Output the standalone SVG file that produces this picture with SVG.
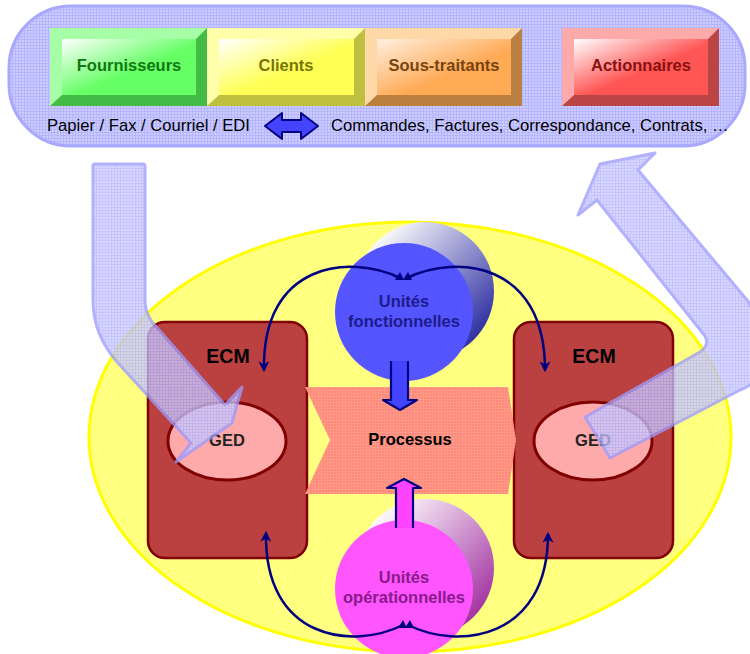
<svg xmlns="http://www.w3.org/2000/svg" width="750" height="654" viewBox="0 0 750 654">
<defs>
<style>
text{font-family:"Liberation Sans",Arial,sans-serif}
.bt{font-size:16.5px;font-weight:bold;text-anchor:middle}
.lbl{font-size:16.6px;fill:#000}
.ecm{fill:#bb4040;stroke:#800000;stroke-width:2.5}
.ged{fill:#ffaaaa;stroke:#800000;stroke-width:3}
.arc{fill:none;stroke:#000080;stroke-width:2.5}
.big{fill:url(#grid);stroke:#9c9cff;stroke-width:3;stroke-linejoin:round}
</style>
<pattern id="grid" width="3" height="3" patternUnits="userSpaceOnUse"><rect width="3" height="3" fill="#ccccff"/><path d="M0 0.5H3M0.5 0V3" stroke="#b6b6ff" stroke-width="1"/></pattern>
<pattern id="sgrid" width="3" height="3" patternUnits="userSpaceOnUse"><rect width="3" height="3" fill="#ff8877"/><path d="M0 0.5H3M0.5 0V3" stroke="#ff9a8a" stroke-width="1"/></pattern>
<linearGradient id="gG" x1="0" y1="0" x2="1" y2="1"><stop offset="0" stop-color="#ffffff"/><stop offset="0.55" stop-color="#66ff66"/></linearGradient>
<linearGradient id="gY" x1="0" y1="0" x2="1" y2="1"><stop offset="0" stop-color="#ffffff"/><stop offset="0.55" stop-color="#ffff55"/></linearGradient>
<linearGradient id="gO" x1="0" y1="0" x2="1" y2="1"><stop offset="0" stop-color="#fff0e0"/><stop offset="0.6" stop-color="#ffaa55"/></linearGradient>
<linearGradient id="gR" x1="0" y1="0" x2="1" y2="1"><stop offset="0" stop-color="#ffffff"/><stop offset="0.55" stop-color="#ff5555"/></linearGradient>
<linearGradient id="shB" x1="0.15" y1="0.1" x2="0.9" y2="0.85"><stop offset="0" stop-color="#ffffff"/><stop offset="1" stop-color="#2a2aa0"/></linearGradient>
<linearGradient id="shM" x1="0.15" y1="0.1" x2="0.9" y2="0.85"><stop offset="0" stop-color="#ffffff"/><stop offset="1" stop-color="#a030a0"/></linearGradient>
<marker id="ah" viewBox="0 0 10 10" refX="8" refY="5" markerWidth="4.4" markerHeight="4.4" orient="auto" markerUnits="strokeWidth"><path d="M0 0L10 5L0 10L3 5Z" fill="#000080"/></marker>
</defs>

<g id="panel">
<rect x="9" y="6" width="736" height="140" rx="62" ry="62" fill="url(#grid)" stroke="#a8a8ff" stroke-width="3"/>
</g>

<g id="fournisseurs" transform="translate(50,28)">
<rect width="157" height="78" fill="#44bb44"/>
<polygon points="0,0 157,0 146,11 12,11 12,67 0,78" fill="#a6ffa6"/>
<rect x="12" y="11" width="134" height="56" fill="url(#gG)"/>
<text class="bt" x="79" y="43" fill="#117711">Fournisseurs</text>
</g>
<g id="clients" transform="translate(207,28)">
<rect width="158" height="78" fill="#c0c040"/>
<polygon points="0,0 158,0 147,11 12,11 12,67 0,78" fill="#ffffaa"/>
<rect x="12" y="11" width="135" height="56" fill="url(#gY)"/>
<text class="bt" x="79" y="43" fill="#777700">Clients</text>
</g>
<g id="sous-traitants" transform="translate(365,28)">
<rect width="157" height="78" fill="#bb8040"/>
<polygon points="0,0 157,0 146,11 12,11 12,67 0,78" fill="#ffd8a8"/>
<rect x="12" y="11" width="134" height="56" fill="url(#gO)"/>
<text class="bt" x="79" y="43" fill="#774411">Sous-traitants</text>
</g>
<g id="actionnaires" transform="translate(562,28)">
<rect width="157" height="78" fill="#bb4444"/>
<polygon points="0,0 157,0 146,11 12,11 12,67 0,78" fill="#ffaaaa"/>
<rect x="12" y="11" width="134" height="56" fill="url(#gR)"/>
<text class="bt" x="79" y="43" fill="#881111">Actionnaires</text>
</g>

<g id="media">
<text class="lbl" x="47" y="131">Papier / Fax / Courriel / EDI</text>
<path d="M265 126 L282 113 L282 120 L301 120 L301 113 L318 126 L301 139 L301 132 L282 132 L282 139 Z" fill="#4444ff" stroke="#000080" stroke-width="2" stroke-linejoin="round"/>
<text class="lbl" x="331" y="131">Commandes, Factures, Correspondance, Contrats, …</text>
</g>

<g id="ecm-zone">
<ellipse cx="410" cy="437" rx="321" ry="215" fill="#ffff80" stroke="#ffff00" stroke-width="3"/>
</g>

<g id="unites-fonctionnelles">
<circle cx="425" cy="291" r="69" fill="url(#shB)"/>
<circle cx="404" cy="312" r="69" fill="#5555ff"/>
<text class="bt" x="404" y="307" fill="#1c1c8c">Unités</text>
<text class="bt" x="404" y="327" fill="#1c1c8c">fonctionnelles</text>
</g>

<g id="unites-operationnelles">
<circle cx="425" cy="568" r="69" fill="url(#shM)"/>
<circle cx="404" cy="589" r="69" fill="#ff55ff"/>
<text class="bt" x="404" y="583" fill="#8a1a8a">Unités</text>
<text class="bt" x="404" y="603" fill="#8a1a8a">opérationnelles</text>
</g>

<g id="ecm-left">
<rect class="ecm" x="148" y="322" width="159" height="236" rx="17"/>
<text x="228" y="363" font-size="19.5" font-weight="bold" text-anchor="middle">ECM</text>
</g>
<g id="ged-left">
<ellipse class="ged" cx="227" cy="441" rx="59" ry="39"/>
<text x="227" y="446" font-size="16.5" font-weight="bold" text-anchor="middle" fill="#222">GED</text>
</g>
<g id="ecm-right">
<rect class="ecm" x="514" y="322" width="159" height="236" rx="17"/>
<text x="594" y="363" font-size="19.5" font-weight="bold" text-anchor="middle">ECM</text>
</g>
<g id="ged-right">
<ellipse class="ged" cx="593" cy="441" rx="59" ry="39"/>
<text x="593" y="446" font-size="16.5" font-weight="bold" text-anchor="middle" fill="#222">GED</text>
</g>

<g id="processus">
<polygon points="305,387 508,387 516,440 508,494 305,494 330,440" fill="url(#sgrid)"/>
<text class="bt" x="410" y="445" fill="#000">Processus</text>
</g>

<g id="connectors">
<polygon points="391,361 391,400 383,400 400,410 417,400 408,400 408,361" fill="#4444ff"/>
<path d="M391 361 L391 400 L383 400 L400 410 L417 400 L408 400 L408 361" fill="none" stroke="#000080" stroke-width="2.2" stroke-linejoin="round"/>
<polygon points="396,528 396,488 387,488 404,479 421,488 413,488 413,528" fill="#ff44ff"/>
<path d="M396 528 L396 488 L387 488 L404 479 L421 488 L413 488 L413 528" fill="none" stroke="#000080" stroke-width="2.2" stroke-linejoin="round"/>
<path class="arc" d="M400 278 C350 254 262 262 264 370" marker-end="url(#ah)"/>
<path class="arc" d="M407 278 C457 254 545 262 545 370" marker-end="url(#ah)"/>
<path class="arc" d="M403 625 C353 650 264 640 266 533" marker-end="url(#ah)"/>
<path class="arc" d="M408 625 C458 650 548 640 548 534" marker-end="url(#ah)"/>
<path d="M395 280 L400 272 L404 280 Z M403 280 L408 272 L412 280 Z" fill="#000080"/>
<path d="M398 628 L403 620 L407 628 Z M405 628 L410 620 L414 628 Z" fill="#000080"/>
</g>

<g id="flux-entrant" opacity="0.78">
<path class="big" d="M93 166 Q93 164 95 164 L143 164 Q145 164 145 166 L145 300 Q145 312 152 322 L225 405 L242 387 L232 423 L176 462 L191 443 L118 363 Q93 335 93 300 Z"/>
</g>
<g id="flux-sortant" opacity="0.78">
<path class="big" d="M610 458 L585 417 L700 352 Q710 345 705 336 L597 200 L578 215 L600 164 L655 153 L638 170 L747 300 Q756 312 756 330 L756 370 Q756 385 740 390 Z"/>
</g>
</svg>
